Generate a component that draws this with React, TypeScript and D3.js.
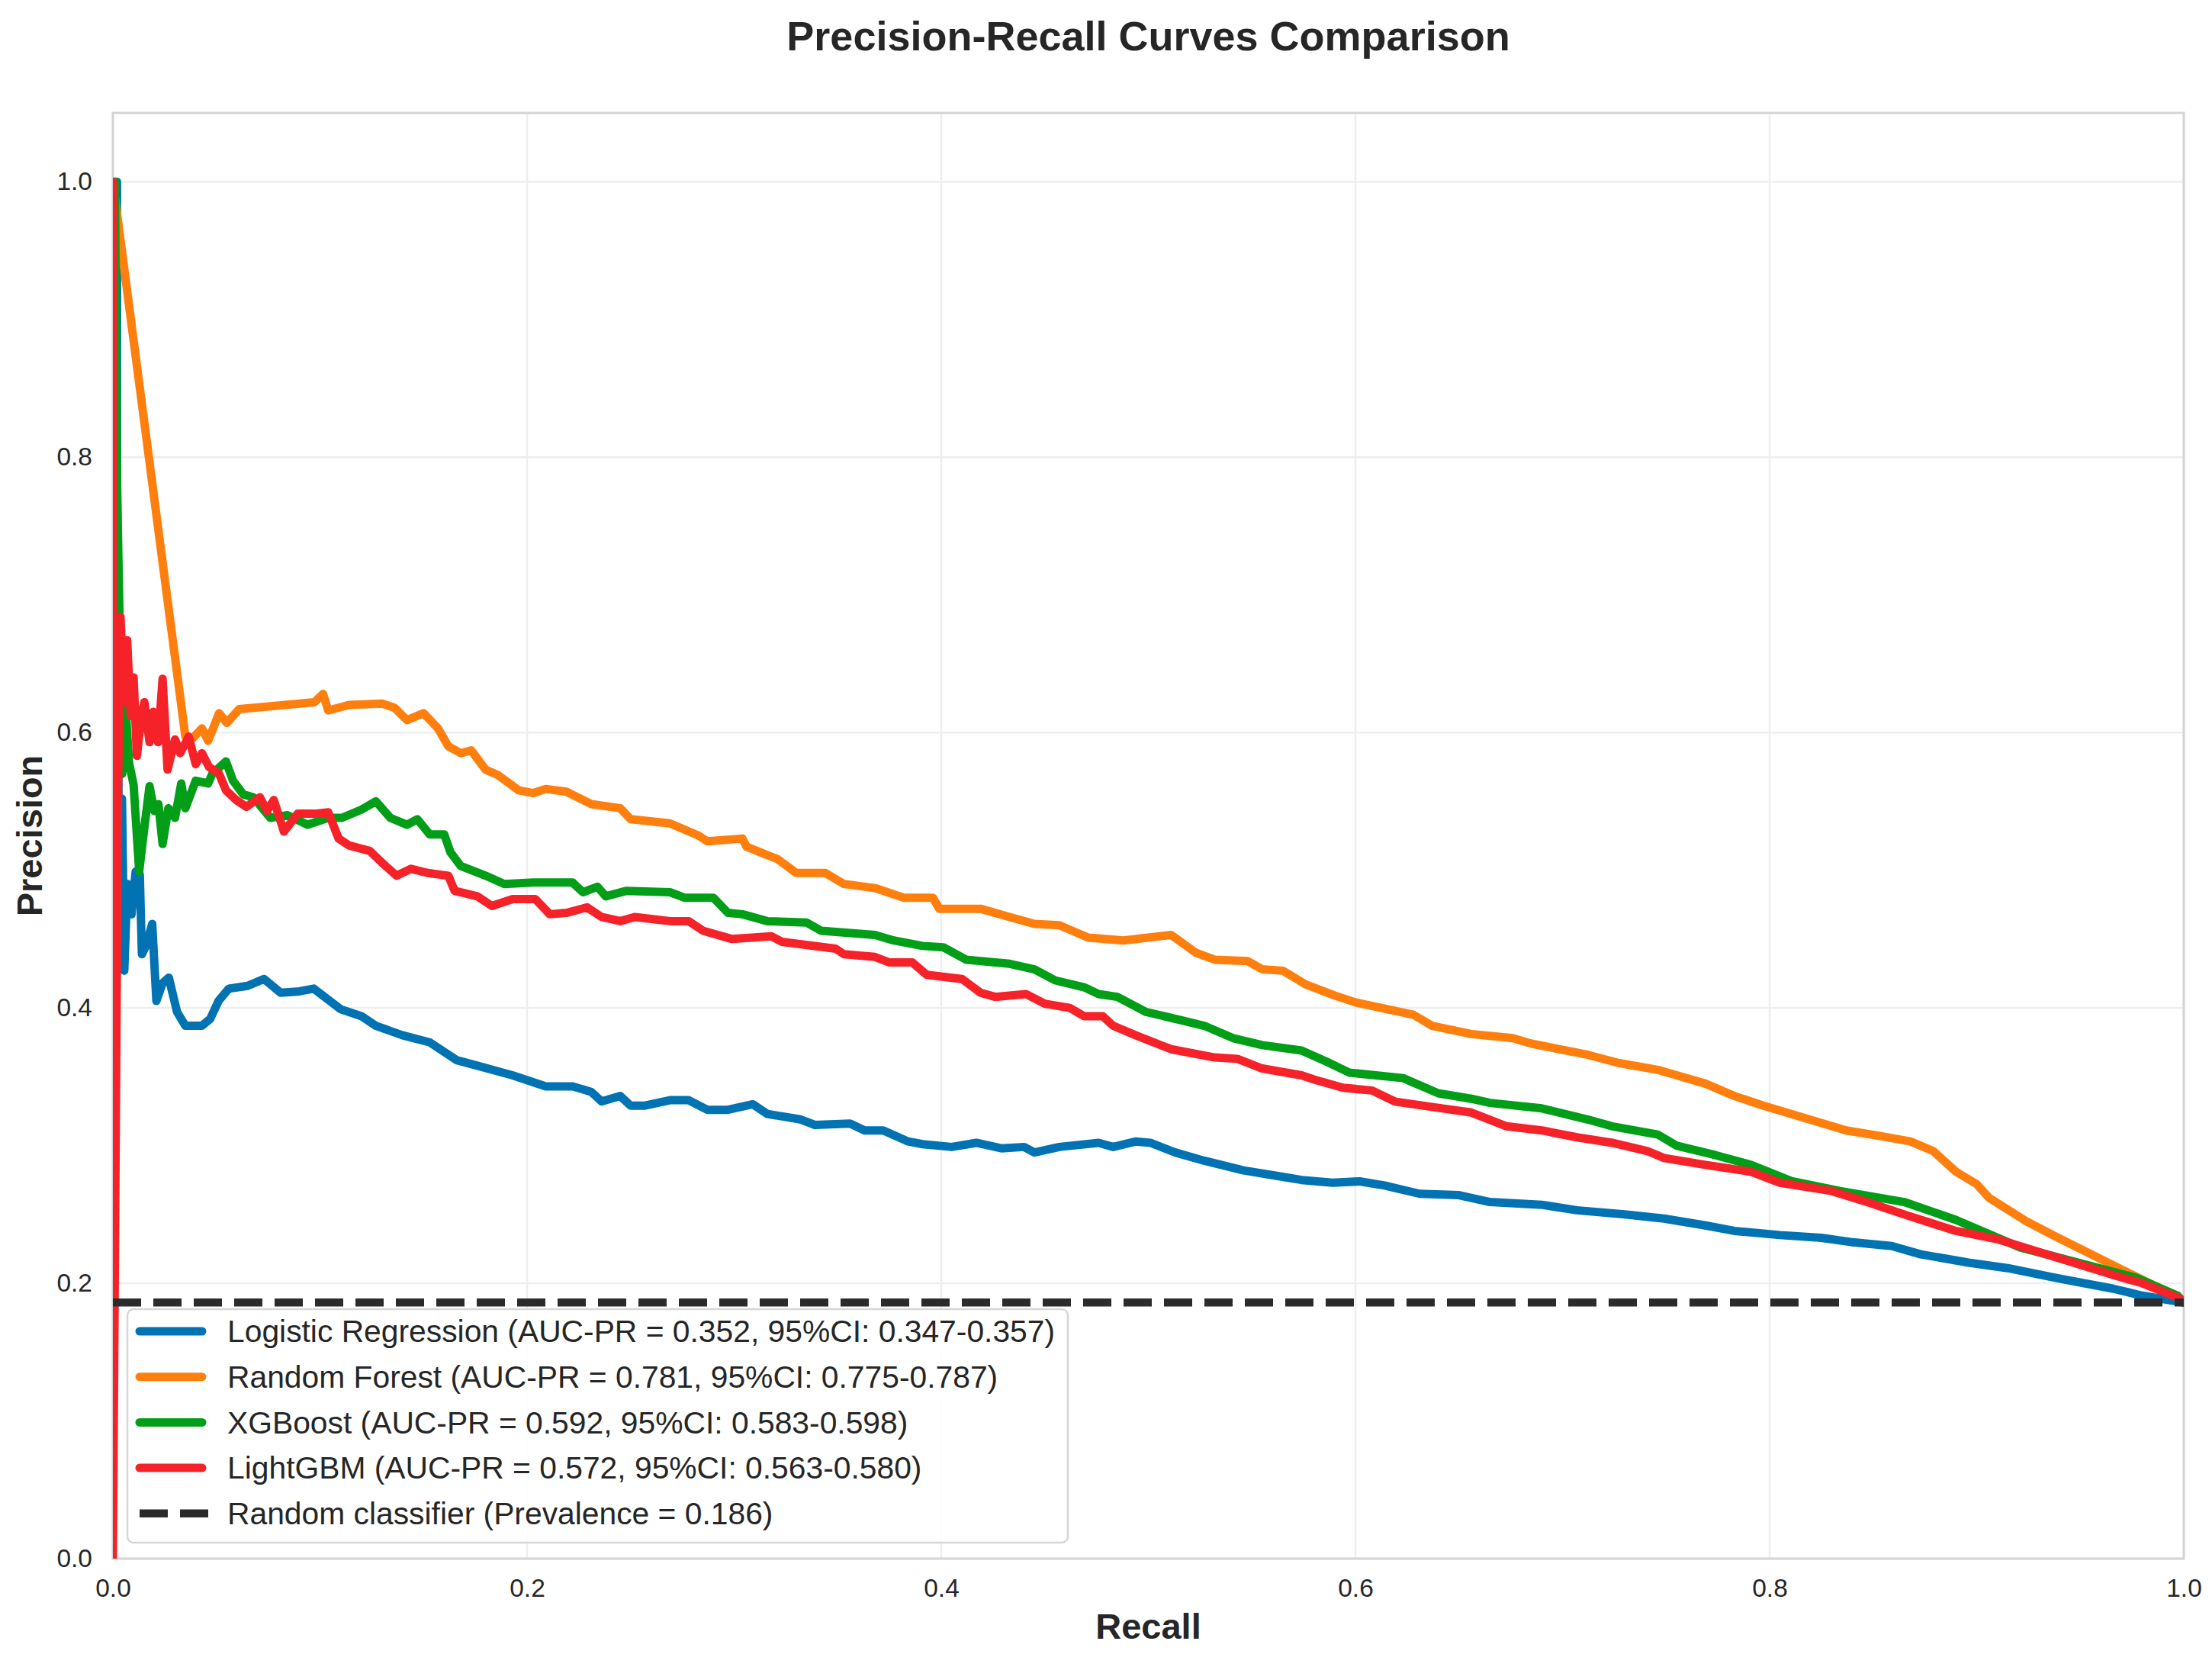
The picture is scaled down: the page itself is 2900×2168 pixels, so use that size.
import * as d3 from "d3";
import { useEffect, useRef } from "react";

type Pt = [number, number];

// [recall, precision] pairs
const logisticPR: Pt[] = [
  [0, 1.0], [0.002, 1.0], [0.002, 0.8], [0.003, 0.45], [0.0044, 0.552], [0.0055, 0.427],
  [0.007, 0.49], [0.009, 0.468], [0.011, 0.499], [0.013, 0.497], [0.014, 0.439], [0.016, 0.445],
  [0.019, 0.461], [0.021, 0.405], [0.024, 0.418], [0.027, 0.422], [0.031, 0.397], [0.035, 0.387],
  [0.043, 0.387], [0.047, 0.392], [0.051, 0.405], [0.056, 0.414], [0.065, 0.416], [0.073, 0.421],
  [0.081, 0.411], [0.09, 0.412], [0.097, 0.414], [0.11, 0.399], [0.12, 0.394], [0.127, 0.387],
  [0.14, 0.38], [0.153, 0.375], [0.166, 0.362], [0.176, 0.358], [0.193, 0.351], [0.209, 0.343],
  [0.222, 0.343], [0.231, 0.339], [0.236, 0.332], [0.245, 0.336], [0.25, 0.329], [0.257, 0.329],
  [0.269, 0.333], [0.278, 0.333], [0.287, 0.326], [0.297, 0.326], [0.309, 0.33], [0.316, 0.323],
  [0.332, 0.319], [0.339, 0.315], [0.356, 0.316], [0.363, 0.311], [0.372, 0.311], [0.384, 0.303],
  [0.391, 0.301], [0.405, 0.299], [0.417, 0.302], [0.429, 0.298], [0.44, 0.299], [0.445, 0.295],
  [0.457, 0.299], [0.476, 0.302], [0.483, 0.299], [0.494, 0.303], [0.501, 0.302], [0.513, 0.295],
  [0.527, 0.289], [0.546, 0.282], [0.562, 0.278], [0.574, 0.275], [0.589, 0.273], [0.602, 0.274],
  [0.614, 0.271], [0.631, 0.265], [0.65, 0.264], [0.665, 0.259], [0.69, 0.257], [0.707, 0.253],
  [0.73, 0.25], [0.749, 0.247], [0.769, 0.242], [0.783, 0.238], [0.805, 0.235], [0.825, 0.233],
  [0.839, 0.23], [0.859, 0.227], [0.873, 0.221], [0.896, 0.215], [0.915, 0.211], [0.938, 0.204],
  [0.966, 0.196], [0.98, 0.191], [1.0, 0.186],
];

const forestPR: Pt[] = [
  [0, 1.0], [0.035, 0.597], [0.038, 0.595], [0.043, 0.603], [0.046, 0.594], [0.0513, 0.614],
  [0.055, 0.607], [0.061, 0.617], [0.0973, 0.622], [0.1015, 0.628], [0.104, 0.616], [0.114, 0.62],
  [0.13, 0.621], [0.136, 0.618], [0.142, 0.609], [0.15, 0.614], [0.157, 0.603], [0.162, 0.59],
  [0.168, 0.585], [0.173, 0.587], [0.18, 0.573], [0.186, 0.569], [0.196, 0.558], [0.203, 0.556],
  [0.209, 0.559], [0.219, 0.557], [0.231, 0.548], [0.245, 0.545], [0.25, 0.537], [0.269, 0.534],
  [0.283, 0.525], [0.287, 0.521], [0.304, 0.523], [0.306, 0.517], [0.321, 0.508], [0.33, 0.498],
  [0.344, 0.498], [0.353, 0.49], [0.368, 0.487], [0.382, 0.48], [0.396, 0.48], [0.399, 0.472],
  [0.419, 0.472], [0.433, 0.466], [0.445, 0.461], [0.457, 0.46], [0.471, 0.451], [0.488, 0.449],
  [0.511, 0.453], [0.523, 0.44], [0.532, 0.435], [0.548, 0.434], [0.555, 0.428], [0.565, 0.427],
  [0.576, 0.417], [0.59, 0.409], [0.6, 0.404], [0.628, 0.395], [0.637, 0.387], [0.656, 0.381],
  [0.676, 0.378], [0.685, 0.374], [0.712, 0.366], [0.727, 0.36], [0.746, 0.355], [0.769, 0.345],
  [0.783, 0.336], [0.797, 0.329], [0.817, 0.32], [0.837, 0.311], [0.853, 0.307], [0.868, 0.303],
  [0.879, 0.296], [0.89, 0.281], [0.9, 0.272], [0.906, 0.262], [0.924, 0.245], [0.938, 0.234],
  [0.966, 0.213], [0.997, 0.19], [1.0, 0.186],
];

const xgboostPR: Pt[] = [
  [0.001, 1.0], [0.002, 0.78], [0.003, 0.7], [0.004, 0.6], [0.0045, 0.57], [0.0062, 0.617],
  [0.0078, 0.578], [0.01, 0.562], [0.0127, 0.499], [0.0152, 0.531], [0.0177, 0.561], [0.02, 0.543],
  [0.022, 0.548], [0.024, 0.519], [0.0268, 0.545], [0.03, 0.538], [0.033, 0.563], [0.035, 0.545],
  [0.04, 0.565], [0.046, 0.563], [0.048, 0.57], [0.0546, 0.579], [0.058, 0.565], [0.063, 0.555],
  [0.0678, 0.553], [0.076, 0.538], [0.0843, 0.54], [0.094, 0.533], [0.104, 0.538], [0.1106, 0.538],
  [0.12, 0.544], [0.127, 0.55], [0.134, 0.538], [0.142, 0.533], [0.147, 0.537], [0.153, 0.526],
  [0.16, 0.526], [0.163, 0.513], [0.168, 0.503], [0.18, 0.496], [0.189, 0.49], [0.203, 0.491],
  [0.222, 0.491], [0.227, 0.484], [0.234, 0.488], [0.238, 0.481], [0.248, 0.485], [0.269, 0.484],
  [0.276, 0.48], [0.29, 0.48], [0.297, 0.469], [0.304, 0.468], [0.316, 0.463], [0.335, 0.462],
  [0.342, 0.456], [0.368, 0.453], [0.377, 0.449], [0.391, 0.445], [0.401, 0.444], [0.412, 0.435],
  [0.433, 0.432], [0.445, 0.428], [0.455, 0.42], [0.469, 0.415], [0.476, 0.41], [0.485, 0.408],
  [0.499, 0.397], [0.516, 0.391], [0.527, 0.387], [0.541, 0.378], [0.555, 0.373], [0.574, 0.369],
  [0.586, 0.361], [0.597, 0.353], [0.623, 0.349], [0.64, 0.338], [0.656, 0.334], [0.665, 0.331],
  [0.69, 0.327], [0.712, 0.319], [0.724, 0.314], [0.746, 0.308], [0.755, 0.3], [0.774, 0.293],
  [0.791, 0.286], [0.811, 0.274], [0.834, 0.267], [0.865, 0.259], [0.89, 0.246], [0.921, 0.226],
  [0.949, 0.215], [0.977, 0.204], [0.997, 0.191], [1.0, 0.186],
];

const lightgbmPR: Pt[] = [
  [0, 1.0], [0, 0], [0.0025, 0.56], [0.0037, 0.684], [0.0053, 0.622], [0.0069, 0.667],
  [0.0086, 0.612], [0.01, 0.64], [0.0116, 0.583], [0.0136, 0.61], [0.0152, 0.622], [0.0177, 0.593],
  [0.0195, 0.615], [0.0218, 0.593], [0.024, 0.639], [0.0264, 0.573], [0.03, 0.595], [0.0325, 0.585],
  [0.0366, 0.597], [0.04, 0.577], [0.043, 0.585], [0.0464, 0.575], [0.0513, 0.57], [0.0546, 0.558],
  [0.0595, 0.551], [0.0645, 0.546], [0.071, 0.553], [0.0744, 0.543], [0.0777, 0.551], [0.0826, 0.528],
  [0.0892, 0.541], [0.0974, 0.541], [0.104, 0.542], [0.109, 0.523], [0.114, 0.518], [0.124, 0.514],
  [0.131, 0.504], [0.137, 0.496], [0.144, 0.501], [0.152, 0.498], [0.162, 0.496], [0.165, 0.485],
  [0.176, 0.481], [0.183, 0.474], [0.193, 0.479], [0.204, 0.479], [0.211, 0.468], [0.219, 0.469],
  [0.229, 0.473], [0.236, 0.466], [0.245, 0.463], [0.252, 0.466], [0.269, 0.463], [0.278, 0.463],
  [0.285, 0.456], [0.299, 0.45], [0.318, 0.452], [0.323, 0.448], [0.349, 0.443], [0.353, 0.439],
  [0.368, 0.437], [0.375, 0.433], [0.386, 0.433], [0.393, 0.424], [0.41, 0.421], [0.419, 0.411],
  [0.426, 0.408], [0.441, 0.41], [0.45, 0.403], [0.462, 0.4], [0.469, 0.394], [0.478, 0.394],
  [0.483, 0.387], [0.494, 0.38], [0.511, 0.37], [0.532, 0.364], [0.543, 0.363], [0.555, 0.356],
  [0.574, 0.351], [0.58, 0.348], [0.594, 0.342], [0.608, 0.34], [0.619, 0.332], [0.642, 0.327],
  [0.656, 0.324], [0.673, 0.314], [0.69, 0.311], [0.707, 0.306], [0.724, 0.302], [0.741, 0.296],
  [0.749, 0.291], [0.769, 0.286], [0.791, 0.281], [0.805, 0.273], [0.83, 0.267], [0.847, 0.259],
  [0.867, 0.249], [0.89, 0.238], [0.91, 0.232], [0.938, 0.219], [0.966, 0.206], [0.98, 0.2],
  [0.998, 0.189], [1.0, 0.186],
];

const seriesData = [logisticPR, forestPR, xgboostPR, lightgbmPR];
const seriesColors = ["#0173b2", "#ff7f0e", "#029e18", "#f5222a"];
const legendLabels = [
  "Logistic Regression (AUC-PR = 0.352, 95%CI: 0.347-0.357)",
  "Random Forest (AUC-PR = 0.781, 95%CI: 0.775-0.787)",
  "XGBoost (AUC-PR = 0.592, 95%CI: 0.583-0.598)",
  "LightGBM (AUC-PR = 0.572, 95%CI: 0.563-0.580)",
  "Random classifier (Prevalence = 0.186)",
];
const prevalence = 0.186;
const tickValues = [0, 0.2, 0.4, 0.6, 0.8, 1.0];

const FONT = "'Liberation Sans', Arial, sans-serif";
const TEXT = "#262626";

const PrecisionRecallChart = () => {
  const svgRef = useRef<SVGSVGElement | null>(null);

  useEffect(() => {
    document.body.style.margin = "0";
    const width = 2900;
    const height = 2168;
    const margin = { top: 148, right: 37, bottom: 125, left: 148 };
    const lineWidth = 11;

    const svg = d3.select(svgRef.current);
    svg.selectAll("*").remove();
    svg.attr("width", width).attr("height", height).style("display", "block");

    svg.append("rect").attr("width", width).attr("height", height).attr("fill", "#ffffff");

    const x = d3.scaleLinear().domain([0, 1]).range([margin.left, width - margin.right]);
    const y = d3.scaleLinear().domain([0, 1.05]).range([height - margin.bottom, margin.top]);

    // grid
    const grid = svg.append("g");
    grid
      .selectAll("line.vx")
      .data(tickValues)
      .join("line")
      .attr("x1", (d) => x(d))
      .attr("x2", (d) => x(d))
      .attr("y1", y(0))
      .attr("y2", y(1.05))
      .attr("stroke", "#eeeeee")
      .attr("stroke-width", 2.5);
    grid
      .selectAll("line.hy")
      .data(tickValues)
      .join("line")
      .attr("x1", x(0))
      .attr("x2", x(1))
      .attr("y1", (d) => y(d))
      .attr("y2", (d) => y(d))
      .attr("stroke", "#eeeeee")
      .attr("stroke-width", 2.5);

    // frame
    svg
      .append("rect")
      .attr("x", x(0))
      .attr("y", y(1.05))
      .attr("width", x(1) - x(0))
      .attr("height", y(0) - y(1.05))
      .attr("fill", "none")
      .attr("stroke", "#d4d4d4")
      .attr("stroke-width", 3);

    // axes
    const xAxis = svg
      .append("g")
      .attr("transform", `translate(0,${y(0)})`)
      .call(d3.axisBottom(x).tickValues(tickValues).tickFormat(d3.format(".1f")).tickSize(0).tickPadding(26));
    const yAxis = svg
      .append("g")
      .attr("transform", `translate(${x(0)},0)`)
      .call(d3.axisLeft(y).tickValues(tickValues).tickFormat(d3.format(".1f")).tickSize(0).tickPadding(27));
    [xAxis, yAxis].forEach((g) => {
      g.select(".domain").remove();
      g.selectAll("text").attr("font-family", FONT).attr("font-size", 33.5).attr("fill", TEXT);
    });

    // curves
    svg
      .append("defs")
      .append("clipPath")
      .attr("id", "pr-clip")
      .append("rect")
      .attr("x", x(0))
      .attr("y", y(1.05))
      .attr("width", x(1) - x(0))
      .attr("height", y(0) - y(1.05));

    const plot = svg.append("g").attr("clip-path", "url(#pr-clip)");
    const line = d3
      .line<Pt>()
      .x((d) => x(d[0]))
      .y((d) => y(d[1]));

    seriesData.forEach((data, i) => {
      plot
        .append("path")
        .datum(data)
        .attr("d", line)
        .attr("fill", "none")
        .attr("stroke", seriesColors[i])
        .attr("stroke-width", lineWidth)
        .attr("stroke-linejoin", "round")
        .attr("stroke-linecap", "round");
    });

    plot
      .append("line")
      .attr("x1", x(0))
      .attr("x2", x(1))
      .attr("y1", y(prevalence))
      .attr("y2", y(prevalence))
      .attr("stroke", "#2b2b2b")
      .attr("stroke-width", 10.5)
      .attr("stroke-dasharray", "37,16");

    // title and axis labels
    svg
      .append("text")
      .attr("x", (x(0) + x(1)) / 2)
      .attr("y", 66)
      .attr("text-anchor", "middle")
      .attr("font-family", FONT)
      .attr("font-weight", "bold")
      .attr("font-size", 54)
      .attr("fill", TEXT)
      .text("Precision-Recall Curves Comparison");

    svg
      .append("text")
      .attr("x", (x(0) + x(1)) / 2)
      .attr("y", 2148)
      .attr("text-anchor", "middle")
      .attr("font-family", FONT)
      .attr("font-weight", "bold")
      .attr("font-size", 47)
      .attr("fill", TEXT)
      .text("Recall");

    svg
      .append("text")
      .attr("transform", `translate(55,${(y(0) + y(1.05)) / 2}) rotate(-90)`)
      .attr("text-anchor", "middle")
      .attr("font-family", FONT)
      .attr("font-weight", "bold")
      .attr("font-size", 47)
      .attr("fill", TEXT)
      .text("Precision");

    // legend
    const legend = svg.append("g");
    legend
      .append("rect")
      .attr("x", 167)
      .attr("y", 1716)
      .attr("width", 1233)
      .attr("height", 306)
      .attr("rx", 8)
      .attr("fill", "#ffffff")
      .attr("fill-opacity", 0.85)
      .attr("stroke", "#d6d6d6")
      .attr("stroke-width", 2.5);

    const rowY = (i: number) => 1745 + i * 59.7;
    legendLabels.forEach((label, i) => {
      const isDashed = i === seriesColors.length;
      legend
        .append("line")
        .attr("x1", 183)
        .attr("x2", isDashed ? 275 : 265)
        .attr("y1", rowY(i))
        .attr("y2", rowY(i))
        .attr("stroke", isDashed ? "#2b2b2b" : seriesColors[i])
        .attr("stroke-width", isDashed ? 10.5 : lineWidth)
        .attr("stroke-linecap", isDashed ? "butt" : "round")
        .attr("stroke-dasharray", isDashed ? "37,16" : null);
      legend
        .append("text")
        .attr("x", 298)
        .attr("y", rowY(i))
        .attr("dy", "0.35em")
        .attr("font-family", FONT)
        .attr("font-size", 40.8)
        .attr("fill", TEXT)
        .text(label);
    });
  }, []);

  return <svg ref={svgRef} />;
};

export default function App() {
  return <PrecisionRecallChart />;
}
